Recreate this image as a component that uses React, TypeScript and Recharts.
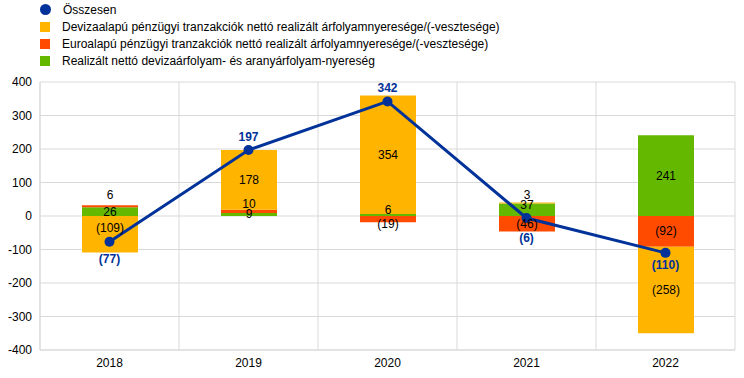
import React from 'react';
import { ComposedChart, Bar, Line, XAxis, YAxis, CartesianGrid, LabelList } from 'recharts';

const years = ['2018', '2019', '2020', '2021', '2022'];
const devizaalapu = [-109, 178, 354, 3, -258];
const euroalapu = [6, 10, -19, -46, -92];
const realizalt = [26, 9, 6, 37, 241];
const osszesen = [-77, 197, 342, -6, -110];
const yTicks = [-400, -300, -200, -100, 0, 100, 200, 300, 400];

const seriesNames = [
    'Összesen',
    'Devizaalapú pénzügyi tranzakciók nettó realizált árfolyamnyeresége/(-vesztesége)',
    'Euroalapú pénzügyi tranzakciók nettó realizált árfolyamnyeresége/(-vesztesége)',
    'Realizált nettó devizaárfolyam- és aranyárfolyam-nyereség',
];

const BLUE = '#003299';
const ORANGE = '#FFB400';
const RED = '#FF4B00';
const GREEN = '#65B800';
const FONT = 'Arial, "Liberation Sans", sans-serif';

const data = years.map((year, i) => ({
    year,
    deviza: devizaalapu[i],
    euro: euroalapu[i],
    realizalt: realizalt[i],
    total: osszesen[i],
}));

// small label nudges (px) so labels on thin segments don't collide, like the original
const nudge: Record<string, number[]> = {
    euro: [-11, -7, 5, 0, 0],
    deviza: [-6, 0, 0, -8, 0],
    realizalt: [0, 0, -5, -5, 0],
    total: [17, -13, -13, 20, 12],
};

const fmt = (v: number) => (v < 0 ? `(${-v})` : `${v}`);

const barLabel = (key: string) => (props: any) => {
    const vb = props.viewBox || props;
    const x = vb.x ?? props.x;
    const y = vb.y ?? props.y;
    const w = vb.width ?? props.width ?? 0;
    const h = vb.height ?? props.height ?? 0;
    const idx = props.index ?? 0;
    const dy = nudge[key][idx] || 0;
    return (
        <text
            x={x + w / 2}
            y={y + h / 2 + dy}
            textAnchor="middle"
            dominantBaseline="central"
            fontSize={12}
            fontFamily={FONT}
            fill="#000"
        >
            {fmt(Number(props.value))}
        </text>
    );
};

const lineLabel = (props: any) => {
    const vb = props.viewBox || props;
    const x = vb.x ?? props.x;
    const y = vb.y ?? props.y;
    const idx = props.index ?? 0;
    return (
        <text
            x={x}
            y={y + nudge.total[idx]}
            textAnchor="middle"
            dominantBaseline="central"
            fontSize={12}
            fontWeight="bold"
            fontFamily={FONT}
            fill={BLUE}
        >
            {fmt(Number(props.value))}
        </text>
    );
};

const LegendBox: React.FC = () => {
    const colors = [BLUE, ORANGE, RED, GREEN];
    return (
        <div style={{ position: 'absolute', left: 40, top: 1, fontFamily: FONT, fontSize: 12, color: '#000' }}>
            {seriesNames.map((name, i) => (
                <div key={name} style={{ display: 'flex', alignItems: 'center', height: 17 }}>
                    <div
                        style={{
                            width: i === 0 ? 11 : 10,
                            height: i === 0 ? 11 : 10,
                            borderRadius: i === 0 ? '50%' : 0,
                            background: colors[i],
                            marginRight: 12,
                        }}
                    />
                    <span>{name}</span>
                </div>
            ))}
        </div>
    );
};

export default function App() {
    return (
        <div style={{ position: 'absolute', left: 0, top: 0, width: 744, height: 378, background: '#fff' }}>
            <LegendBox />
            <ComposedChart
                width={744}
                height={378}
                data={data}
                stackOffset="sign"
                margin={{ top: 82, right: 9, bottom: 0, left: 0 }}
            >
                <CartesianGrid
                    stroke="#D9D9D9"
                    verticalCoordinatesGenerator={({ offset }: any) =>
                        years.map((_, i) => offset.left + (i * offset.width) / years.length).concat(offset.left + offset.width)
                    }
                />
                <XAxis
                    dataKey="year"
                    height={28}
                    tickLine={false}
                    axisLine={{ stroke: '#D9D9D9' }}
                    tick={{ fontSize: 12, fill: '#000', fontFamily: FONT }}
                />
                <YAxis
                    width={40}
                    domain={[-400, 400]}
                    ticks={yTicks}
                    tickLine={false}
                    axisLine={{ stroke: '#D9D9D9' }}
                    tick={{ fontSize: 12, fill: '#000', fontFamily: FONT }}
                    interval={0}
                />
                <Bar dataKey="realizalt" stackId="a" fill={GREEN} barSize={56} isAnimationActive={false}>
                    <LabelList dataKey="realizalt" content={barLabel('realizalt')} />
                </Bar>
                <Bar dataKey="euro" stackId="a" fill={RED} barSize={56} isAnimationActive={false}>
                    <LabelList dataKey="euro" content={barLabel('euro')} />
                </Bar>
                <Bar dataKey="deviza" stackId="a" fill={ORANGE} barSize={56} isAnimationActive={false}>
                    <LabelList dataKey="deviza" content={barLabel('deviza')} />
                </Bar>
                <Line
                    dataKey="total"
                    stroke={BLUE}
                    strokeWidth={3}
                    dot={{ r: 5, fill: BLUE, stroke: BLUE, strokeWidth: 0 }}
                    activeDot={false}
                    isAnimationActive={false}
                >
                    <LabelList dataKey="total" content={lineLabel} />
                </Line>
            </ComposedChart>
        </div>
    );
}
